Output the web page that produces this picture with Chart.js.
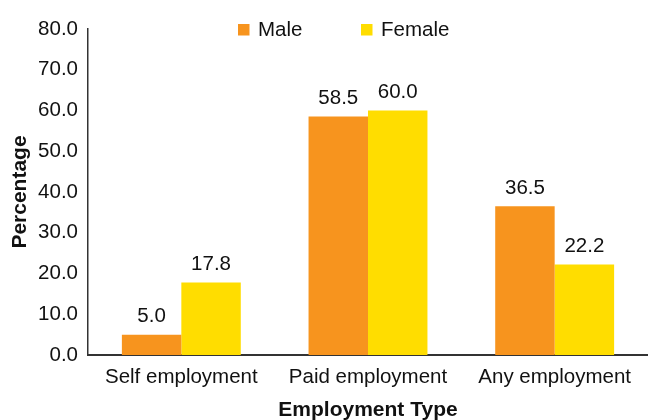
<!DOCTYPE html>
<html>
<head>
<meta charset="utf-8">
<script src="https://cdn.jsdelivr.net/npm/chart.js@4.4.0/dist/chart.umd.min.js"></script>
<style>
html,body{margin:0;padding:0;background:#fff;}
#wrap{width:648px;height:420px;position:relative;}
</style>
</head>
<body>
<div id="wrap"><canvas id="c" width="648" height="420"></canvas></div>
<script>
const categories = ["Self employment", "Paid employment", "Any employment"];
const maleValues = [5.0, 58.5, 36.5];
const femaleValues = [17.8, 60.0, 22.2];
const seriesNames = ["Male", "Female"];
const yTicks = [0, 10, 20, 30, 40, 50, 60, 70, 80];
const xTitle = "Employment Type";
const yTitle = "Percentage";

const FONT = "'Liberation Sans', Arial, Helvetica, sans-serif";
const ORANGE = "#F7941E";
const YELLOW = "#FFDD00";

const valueLabels = {
  id: "valueLabels",
  afterDatasetsDraw(chart) {
    const ctx = chart.ctx;
    ctx.save();
    ctx.font = "20.5px " + FONT;
    ctx.fillStyle = "#111";
    ctx.textAlign = "center";
    ctx.textBaseline = "alphabetic";
    chart.data.datasets.forEach((ds, i) => {
      chart.getDatasetMeta(i).data.forEach((bar, j) => {
        ctx.fillText(ds.data[j].toFixed(1), bar.x, bar.y - 12.5);
      });
    });
    ctx.restore();
  }
};

const customLegend = {
  id: "customLegend",
  afterDraw(chart) {
    const ctx = chart.ctx;
    ctx.save();
    ctx.font = "20.5px " + FONT;
    ctx.textBaseline = "alphabetic";
    ctx.textAlign = "left";
    let x = 238;
    chart.data.datasets.forEach((ds, i) => {
      ctx.fillStyle = ds.backgroundColor;
      ctx.fillRect(x, 24, 11.5, 11.5);
      ctx.fillStyle = "#111";
      ctx.fillText(ds.label, x + 20, 36);
      x += 123;
    });
    ctx.restore();
  }
};

new Chart(document.getElementById("c"), {
  type: "bar",
  data: {
    labels: categories,
    datasets: [
      { label: seriesNames[0], data: maleValues, backgroundColor: ORANGE },
      { label: seriesNames[1], data: femaleValues, backgroundColor: YELLOW }
    ]
  },
  options: {
    responsive: false,
    animation: false,
    devicePixelRatio: 1,
    layout: { padding: { top: 29, left: 8, right: 0, bottom: 0 } },
    datasets: { bar: { categoryPercentage: 0.637, barPercentage: 1.0 } },
    plugins: { legend: { display: false }, tooltip: { enabled: false } },
    scales: {
      x: {
        afterFit(scale) { scale.height = 65; },
        grid: { display: false, drawTicks: false },
        border: { display: true, color: "#333", width: 2 },
        ticks: { color: "#111", font: { family: FONT, size: 20.5 }, padding: 10, maxRotation: 0, autoSkip: false },
        title: { display: true, text: xTitle, color: "#111", font: { family: FONT, size: 21, weight: "bold" }, padding: { top: 0, bottom: -3 } }
      },
      y: {
        min: 0, max: 80,
        afterBuildTicks(scale) { scale.ticks = yTicks.map(v => ({ value: v })); },
        afterFit(scale) { scale.width = 80; },
        grid: { display: false, drawTicks: false },
        border: { display: true, color: "#333", width: 1.5 },
        ticks: { color: "#111", font: { family: FONT, size: 20.5 }, padding: 10, callback: v => Number(v).toFixed(1) },
        title: { display: true, text: yTitle, color: "#111", font: { family: FONT, size: 21, weight: "bold" }, padding: { top: 0, bottom: 0 } }
      }
    }
  },
  plugins: [valueLabels, customLegend]
});
</script>
</body>
</html>
